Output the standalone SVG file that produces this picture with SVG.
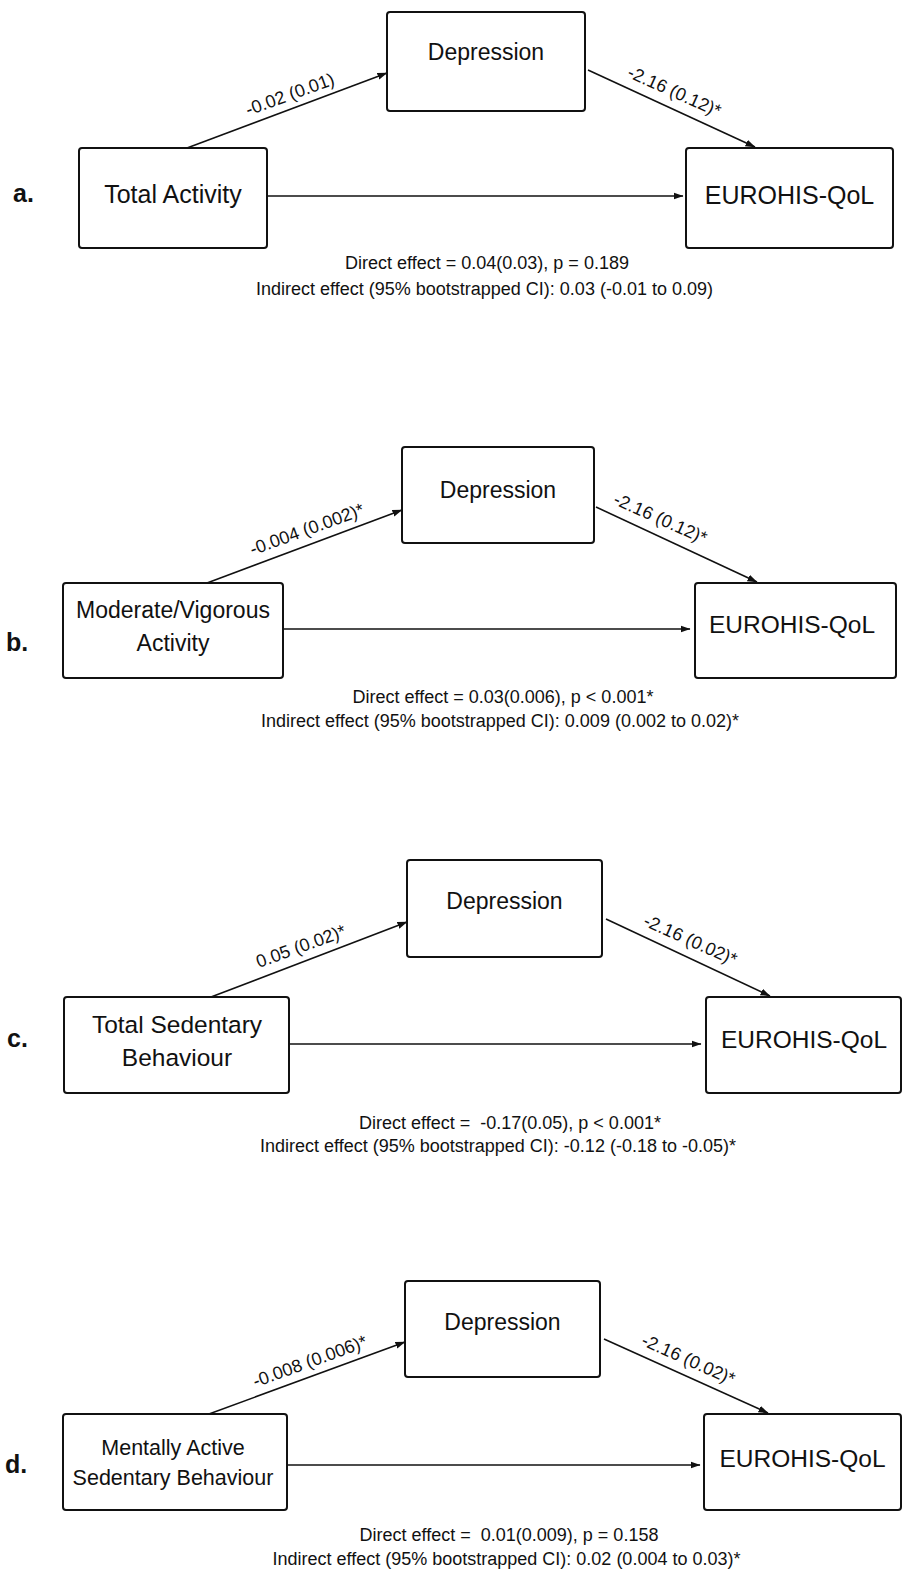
<svg xmlns="http://www.w3.org/2000/svg" width="902" height="1579" viewBox="0 0 902 1579">
<style>
text{font-family:"Liberation Sans",Arial,sans-serif;fill:#111}
.box{fill:#fff;stroke:#111;stroke-width:2}
.n{text-anchor:middle}
.lab{font-weight:bold;font-size:25px}
.eff{font-size:18px;text-anchor:middle}
.el{font-size:18px;text-anchor:middle}
.c line{stroke:#111;stroke-width:1.6;marker-end:url(#arr)}
</style>
<defs>
<marker id="arr" markerWidth="10" markerHeight="8" refX="9.5" refY="4" orient="auto" markerUnits="userSpaceOnUse"><path d="M0,0.5 L10,4 L0,7.5 z" fill="#111"/></marker>
</defs>
<rect width="902" height="1579" fill="#fff"/>

<!-- Panel a -->
<text class="lab" x="13" y="202">a.</text>
<g id="a-total-activity"><rect class="box" x="79" y="148" width="188" height="100" rx="3"/><text class="n" x="173" y="203" font-size="25">Total Activity</text></g>
<g id="a-depression"><rect class="box" x="387" y="12" width="198" height="99" rx="3"/><text class="n" x="486" y="60" font-size="23">Depression</text></g>
<g id="a-eurohis"><rect class="box" x="686" y="148" width="207" height="100" rx="3"/><text class="n" x="789.5" y="204" font-size="25">EUROHIS-QoL</text></g>
<g class="c" id="a-connectors">
<line x1="187" y1="148" x2="387" y2="73"/>
<line x1="588" y1="70" x2="755" y2="147"/>
<line x1="267" y1="196" x2="683" y2="196"/>
<text class="el" transform="translate(292,100) rotate(-20)">-0.02 (0.01)</text>
<text class="el" transform="translate(672,97) rotate(24)">-2.16 (0.12)*</text>
</g>
<text class="eff" x="487" y="269">Direct effect = 0.04(0.03), p = 0.189</text>
<text class="eff" x="484.5" y="295">Indirect effect (95% bootstrapped CI): 0.03 (-0.01 to 0.09)</text>

<!-- Panel b -->
<text class="lab" x="6" y="651">b.</text>
<g id="b-mv-activity"><rect class="box" x="63" y="583" width="220" height="95" rx="3"/><text class="n" x="173" y="618" font-size="23">Moderate/Vigorous</text><text class="n" x="173" y="651" font-size="23">Activity</text></g>
<g id="b-depression"><rect class="box" x="402" y="447" width="192" height="96" rx="3"/><text class="n" x="498" y="498" font-size="23">Depression</text></g>
<g id="b-eurohis"><rect class="box" x="695" y="583" width="201" height="95" rx="3"/><text class="n" x="792" y="633" font-size="24.5">EUROHIS-QoL</text></g>
<g class="c" id="b-connectors">
<line x1="207" y1="583" x2="402" y2="510"/>
<line x1="596" y1="507" x2="757" y2="582"/>
<line x1="283" y1="629" x2="690" y2="629"/>
<text class="el" transform="translate(309,535) rotate(-20)">-0.004 (0.002)*</text>
<text class="el" transform="translate(658,524) rotate(24)">-2.16 (0.12)*</text>
</g>
<text class="eff" x="503" y="703">Direct effect = 0.03(0.006), p &lt; 0.001*</text>
<text class="eff" x="500" y="727">Indirect effect (95% bootstrapped CI): 0.009 (0.002 to 0.02)*</text>

<!-- Panel c -->
<text class="lab" x="7" y="1047">c.</text>
<g id="c-total-sedentary"><rect class="box" x="64" y="997" width="225" height="96" rx="3"/><text class="n" x="177" y="1033" font-size="24.5">Total Sedentary</text><text class="n" x="177" y="1066" font-size="24.5">Behaviour</text></g>
<g id="c-depression"><rect class="box" x="407" y="860" width="195" height="97" rx="3"/><text class="n" x="504.5" y="909" font-size="23">Depression</text></g>
<g id="c-eurohis"><rect class="box" x="706" y="997" width="195" height="96" rx="3"/><text class="n" x="804" y="1048" font-size="24.5">EUROHIS-QoL</text></g>
<g class="c" id="c-connectors">
<line x1="211" y1="997" x2="407" y2="922"/>
<line x1="606" y1="919" x2="770" y2="996"/>
<line x1="289" y1="1044" x2="701" y2="1044"/>
<text class="el" transform="translate(303,952) rotate(-20)">0.05 (0.02)*</text>
<text class="el" transform="translate(688,945.5) rotate(24)">-2.16 (0.02)*</text>
</g>
<text class="eff" x="510" y="1129" xml:space="preserve">Direct effect =  -0.17(0.05), p &lt; 0.001*</text>
<text class="eff" x="498" y="1152">Indirect effect (95% bootstrapped CI): -0.12 (-0.18 to -0.05)*</text>

<!-- Panel d -->
<text class="lab" x="5" y="1473">d.</text>
<g id="d-mentally-active"><rect class="box" x="63" y="1414" width="224" height="96" rx="3"/><text class="n" x="173" y="1455" font-size="21.5">Mentally Active</text><text class="n" x="173" y="1485" font-size="21.5">Sedentary Behaviour</text></g>
<g id="d-depression"><rect class="box" x="405" y="1281" width="195" height="96" rx="3"/><text class="n" x="502.5" y="1330" font-size="23">Depression</text></g>
<g id="d-eurohis"><rect class="box" x="704" y="1414" width="197" height="96" rx="3"/><text class="n" x="802.5" y="1467" font-size="24.5">EUROHIS-QoL</text></g>
<g class="c" id="d-connectors">
<line x1="209" y1="1414" x2="405" y2="1342"/>
<line x1="604" y1="1339" x2="768" y2="1413"/>
<line x1="287" y1="1465" x2="700" y2="1465"/>
<text class="el" transform="translate(312,1367) rotate(-20)">-0.008 (0.006)*</text>
<text class="el" transform="translate(686,1365) rotate(24)">-2.16 (0.02)*</text>
</g>
<text class="eff" x="509" y="1541" xml:space="preserve">Direct effect =  0.01(0.009), p = 0.158</text>
<text class="eff" x="506.5" y="1565">Indirect effect (95% bootstrapped CI): 0.02 (0.004 to 0.03)*</text>
</svg>
